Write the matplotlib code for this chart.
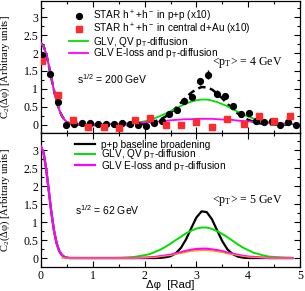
import matplotlib
matplotlib.use("Agg")
import matplotlib.pyplot as plt
from matplotlib.ticker import MultipleLocator, FormatStrFormatter
from matplotlib.lines import Line2D

plt.rcParams['font.family'] = ['Liberation Sans', 'DejaVu Sans']
plt.rcParams['mathtext.fontset'] = 'custom'
plt.rcParams['mathtext.rm'] = 'Liberation Sans'

# ---------------- data: top panel (200 GeV) ----------------
pp_x = [0.02, 0.17, 0.33, 0.49, 0.64, 0.79, 0.94, 1.10, 1.26, 1.41, 1.57, 1.72, 1.88,
        2.03, 2.18, 2.33, 2.48, 2.62, 2.77, 2.92, 3.07, 3.23, 3.39, 3.55, 3.71, 3.86,
        4.01, 4.16, 4.31, 4.46, 4.61, 4.77, 4.92]
pp_y = [1.95, 1.42, 0.62, 0.00, 0.02, 0.03, 0.05, 0.02, 0.01, 0.02, 0.04, 0.02, 0.00,
        -0.03, 0.05, 0.11, 0.30, 0.42, 0.65, 0.78, 1.21, 1.40, 0.86, 0.79, 0.51, 0.29,
        0.33, 0.11, 0.07, 0.10, -0.01, 0.08, -0.01]
pp_err = [0.06, 0.06, 0.06, 0.03, 0.03, 0.03, 0.03, 0.03, 0.03, 0.03, 0.03, 0.03, 0.03,
          0.04, 0.04, 0.04, 0.05, 0.05, 0.07, 0.08, 0.10, 0.12, 0.10, 0.08, 0.07, 0.05,
          0.05, 0.04, 0.04, 0.04, 0.04, 0.04, 0.03]

dau_x = [0.01, 0.33, 0.61, 0.91, 1.22, 1.51, 1.81, 2.10, 2.41, 2.70, 3.00, 3.30, 3.60,
         3.91, 4.20, 4.50, 4.81]
dau_y = [1.77, 0.84, 0.14, -0.06, -0.07, -0.09, 0.12, 0.19, -0.01, -0.02, 0.07, -0.07,
         0.16, 0.02, 0.24, 0.09, 0.24]
dau_err = [0.07, 0.07, 0.07, 0.07, 0.07, 0.07, 0.07, 0.07, 0.07, 0.07, 0.08, 0.07,
           0.07, 0.07, 0.07, 0.07, 0.07]

# curve sampling grid (Delta phi)
cx = [0.0, 0.05, 0.1, 0.15, 0.2, 0.25, 0.3, 0.35, 0.4, 0.45, 0.5, 0.55, 0.6, 0.7, 0.8,
      1.0, 1.2, 1.4, 1.6, 1.8, 2.0, 2.1, 2.2, 2.3, 2.4, 2.5, 2.6, 2.7, 2.8, 2.9, 3.0,
      3.1, 3.2, 3.3, 3.4, 3.5, 3.6, 3.7, 3.8, 3.9, 4.0, 4.1, 4.2, 4.3, 4.4, 4.6, 4.85]

top_fit = [2.27, 2.19, 1.98, 1.66, 1.30, 0.96, 0.65, 0.42, 0.25, 0.14, 0.07, 0.03, 0.02, 0.0, 0.0,
           -0.01, -0.02, -0.02, -0.02, -0.01, 0.02, 0.05, 0.09, 0.14, 0.22, 0.33, 0.46, 0.61, 0.76, 0.89, 0.99,
           1.05, 1.04, 0.98, 0.87, 0.73, 0.58, 0.43, 0.31, 0.20, 0.13, 0.08, 0.04, 0.02, 0.01, 0.0, 0.0]
top_qv = [2.27, 2.19, 1.98, 1.66, 1.30, 0.96, 0.65, 0.42, 0.25, 0.14, 0.07, 0.03, 0.02, 0.0, 0.0,
          0.0, 0.0, 0.01, 0.02, 0.04, 0.09, 0.13, 0.18, 0.24, 0.30, 0.37, 0.45, 0.52, 0.59, 0.64, 0.68,
          0.70, 0.70, 0.67, 0.63, 0.57, 0.51, 0.43, 0.36, 0.29, 0.22, 0.17, 0.12, 0.09, 0.06, 0.03, 0.01]
top_eloss = [2.27, 2.19, 1.98, 1.66, 1.30, 0.96, 0.65, 0.42, 0.25, 0.14, 0.07, 0.03, 0.02, 0.0, 0.0,
             0.005, 0.01, 0.015, 0.025, 0.04, 0.06, 0.07, 0.08, 0.09, 0.10, 0.12, 0.13, 0.14, 0.15, 0.15, 0.16,
             0.16, 0.16, 0.16, 0.15, 0.14, 0.14, 0.13, 0.11, 0.10, 0.09, 0.08, 0.07, 0.06, 0.05, 0.03, 0.02]

# ---------------- data: bottom panel (62 GeV) ----------------
bot_pp = [3.10, 2.93, 2.48, 1.88, 1.27, 0.77, 0.42, 0.20, 0.09, 0.03, 0.01, 0.0, 0.0, 0.0, 0.0,
          0.0, 0.0, 0.0, 0.0, 0.0, 0.0, 0.0, 0.0, 0.005, 0.02, 0.05, 0.13, 0.28, 0.52, 0.83, 1.13,
          1.30, 1.28, 1.08, 0.77, 0.47, 0.24, 0.11, 0.04, 0.01, 0.0, 0.0, 0.0, 0.0, 0.0, 0.0, 0.0]
bot_qv = [3.10, 2.93, 2.48, 1.88, 1.27, 0.77, 0.42, 0.20, 0.09, 0.03, 0.01, 0.0, 0.0, 0.0, 0.0,
          0.0, 0.0, 0.0, 0.01, 0.03, 0.08, 0.11, 0.17, 0.23, 0.31, 0.40, 0.50, 0.59, 0.69, 0.76, 0.82,
          0.85, 0.85, 0.81, 0.75, 0.67, 0.58, 0.48, 0.38, 0.29, 0.22, 0.15, 0.11, 0.07, 0.04, 0.02, 0.0]
bot_eloss = [3.10, 2.93, 2.48, 1.88, 1.27, 0.77, 0.42, 0.20, 0.09, 0.03, 0.01, 0.0, 0.0, 0.0, 0.0,
             0.0, 0.0, 0.0, 0.0, 0.0, 0.01, 0.02, 0.03, 0.05, 0.07, 0.09, 0.13, 0.16, 0.20, 0.23, 0.25,
             0.26, 0.26, 0.24, 0.22, 0.19, 0.15, 0.12, 0.09, 0.06, 0.04, 0.03, 0.02, 0.01, 0.0, 0.0, 0.0]
bot_eloss2 = [None, None, None, None, None, None, None, None, 0.0, 0.0, 0.0, 0.0, 0.0, 0.0, 0.0,
              0.0, 0.0, 0.0, 0.0, 0.0, 0.01, 0.02, 0.02, 0.04, 0.06, 0.07, 0.11, 0.13, 0.16, 0.19, 0.20,
              0.21, 0.21, 0.20, 0.18, 0.16, 0.12, 0.10, 0.07, 0.05, 0.03, 0.02, 0.02, 0.01, 0.0, 0.0, 0.0]

lab_pp = 'STAR h$\\mathregular{^+}$+h$\\mathregular{^-}$ in p+p (x10)'
lab_dau = 'STAR h$\\mathregular{^+}$+h$\\mathregular{^-}$ in central d+Au (x10)'
lab_qv = 'GLV, QV p$\\mathregular{_T}$-diffusion'
lab_el = 'GLV E-loss and p$\\mathregular{_T}$-diffusion'
lab_base = 'p+p baseline broadening'

GREEN = '#00e000'
MAG = '#ff00ff'
RED = '#ff2a2a'

fig = plt.figure(figsize=(3.05, 2.91), dpi=100)
L, R = 41 / 305, 300 / 305
ax1 = fig.add_axes([L, 1 - 133.5 / 291, R - L, 133.0 / 291])
ax2 = fig.add_axes([L, 1 - 267.0 / 291, R - L, 133.5 / 291], sharex=ax1)

serif = ['Liberation Serif', 'DejaVu Serif']

for ax in (ax1, ax2):
    ax.set_xlim(0, 5)
    ax.set_ylim(-0.25, 3.47)
    ax.xaxis.set_major_locator(MultipleLocator(1))
    ax.xaxis.set_minor_locator(MultipleLocator(0.5))
    ax.yaxis.set_major_locator(MultipleLocator(0.5))
    ax.yaxis.set_minor_locator(MultipleLocator(0.25))
    ax.yaxis.set_major_formatter(FormatStrFormatter('%g'))
    ax.tick_params(which='both', direction='in', top=True, right=True, width=0.8)
    ax.tick_params(which='major', length=4)
    ax.tick_params(which='minor', length=2.2)
    ax.tick_params(labelsize=8.5, pad=2)
    ax.set_ylabel('C$\\mathregular{_2}$(\u0394\u03c6) [Arbitrary units]', family=serif, fontsize=7.6)
    ax.yaxis.set_label_coords(-0.112, 0.5)
    for s in ax.spines.values():
        s.set_linewidth(0.9)

plt.setp(ax1.get_xticklabels(), visible=False)
for lbl in ax2.get_xticklabels() + ax2.get_yticklabels() + ax1.get_yticklabels():
    lbl.set_fontfamily(serif)

# ---- top panel ----
ax1.plot(cx, top_fit, color='black', lw=1.8, ls=(0, (3.0, 1.8)), zorder=3)
hq, = ax1.plot(cx, top_qv, color=GREEN, lw=1.3, zorder=4)
he, = ax1.plot(cx, top_eloss, color=MAG, lw=1.3, zorder=5)
ax1.errorbar(pp_x, pp_y, yerr=pp_err, fmt='o', color='black', ms=4.2, elinewidth=1.0,
             capsize=0, zorder=6)
ax1.errorbar(dau_x, dau_y, yerr=dau_err, fmt='s', color=RED, ms=3.8, elinewidth=1.0,
             capsize=0, zorder=6)
hp = Line2D([], [], ls='none', marker='o', color='black', ms=4.2)
hd = Line2D([], [], ls='none', marker='s', color=RED, ms=3.8)
ax1.legend([hp, hd, hq, he], [lab_pp, lab_dau, lab_qv, lab_el], loc='upper left',
           bbox_to_anchor=(0.11, 0.94), frameon=False, fontsize=7.2, handlelength=1.9,
           labelspacing=-0.22, handletextpad=0.5, borderaxespad=0, borderpad=0, handleheight=0.8)
ax1.text(0.69, 1.26, 's$\\mathregular{^{1/2}}$ = 200 GeV', fontsize=7.5, va='center')
ax1.text(3.30, 1.74, '<p$\\mathregular{_T}$> = 4 GeV', fontsize=8.6, va='center', family=serif)

# ---- bottom panel ----
ax2.plot(cx, bot_eloss2, color='#ffd000', lw=0.8, zorder=2)
hb, = ax2.plot(cx, bot_pp, color='black', lw=1.6, zorder=3)
hq2, = ax2.plot(cx, bot_qv, color=GREEN, lw=1.4, zorder=4)
he2, = ax2.plot(cx, bot_eloss, color=MAG, lw=1.6, zorder=5)
ax2.plot(cx, bot_eloss2, color='#ff9900', lw=0.7, zorder=6)
ax2.legend([hb, hq2, he2], [lab_base, lab_qv, lab_el], loc='upper left',
           bbox_to_anchor=(0.13, 0.955), frameon=False, fontsize=7.2, handlelength=2.0,
           labelspacing=-0.22, handletextpad=0.6, borderaxespad=0, borderpad=0, handleheight=0.8)
ax2.text(0.66, 1.33, 's$\\mathregular{^{1/2}}$ = 62 GeV', fontsize=7.5, va='center')
ax2.text(3.30, 1.60, '<p$\\mathregular{_T}$> = 5 GeV', fontsize=8.6, va='center', family=serif)
ax2.set_xlabel('\u0394\u03c6  [Rad]', fontsize=8.2, labelpad=-1)

fig.savefig('out.png', dpi=100)
